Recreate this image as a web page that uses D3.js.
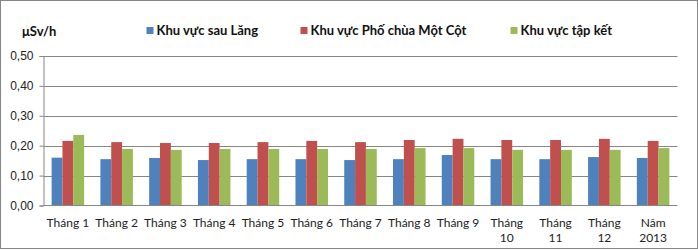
<!DOCTYPE html>
<html>
<head>
<meta charset="utf-8">
<script src="https://cdn.jsdelivr.net/npm/d3@7"></script>
<style>
  body { margin: 0; background: #fff; }
  svg { display: block; font-family: Lato, "Open Sans", sans-serif; }
</style>
</head>
<body>
<svg width="698" height="250"></svg>
<script>
const categories = ['Tháng 1', 'Tháng 2', 'Tháng 3', 'Tháng 4', 'Tháng 5', 'Tháng 6', 'Tháng 7',
  'Tháng 8', 'Tháng 9', 'Tháng 10', 'Tháng 11', 'Tháng 12', 'Năm 2013'];
const seriesNames = ['Khu vực sau Lăng', 'Khu vực Phố chùa Một Cột', 'Khu vực tập kết'];
const sauLang = [0.16, 0.155, 0.159, 0.152, 0.155, 0.155, 0.152, 0.155, 0.169, 0.155, 0.155, 0.162, 0.159];
const phoChua = [0.216, 0.212, 0.209, 0.209, 0.212, 0.216, 0.212, 0.219, 0.223, 0.219, 0.219, 0.223, 0.216];
const tapKet = [0.236, 0.189, 0.186, 0.189, 0.189, 0.189, 0.189, 0.192, 0.192, 0.186, 0.186, 0.186, 0.192];
const yTicks = [0, 0.1, 0.2, 0.3, 0.4, 0.5];
const colors = ['#4f81bd', '#c0504d', '#9bbb59'];

const svg = d3.select('svg');
const margin = { left: 43.5, right: 677.5, top: 56, bottom: 205.5 };

// outer frame
svg.append('rect')
  .attr('x', 0.5).attr('y', 0.5)
  .attr('width', 697).attr('height', 248)
  .attr('fill', '#fff').attr('stroke', '#868686');

const x = d3.scaleBand()
  .domain(categories)
  .range([margin.left, margin.right])
  .paddingInner(1.5 / 4.5)
  .paddingOuter(0.75 / 4.5);
const x1 = d3.scaleBand()
  .domain(d3.range(3))
  .range([0, x.bandwidth()]);
const y = d3.scaleLinear()
  .domain([0, 0.5])
  .range([margin.bottom, margin.top]);

const fmt = d => d3.format('.2f')(d).replace('.', ',');

// gridlines
svg.append('g')
  .selectAll('line')
  .data(yTicks.slice(1))
  .enter().append('line')
  .attr('x1', margin.left).attr('x2', margin.right)
  .attr('y1', d => Math.round(y(d)) + 0.5).attr('y2', d => Math.round(y(d)) + 0.5)
  .attr('stroke', '#868686');

// y axis
const yAxis = svg.append('g')
  .attr('transform', 'translate(' + margin.left + ',0)')
  .call(d3.axisLeft(y).tickValues(yTicks).tickFormat(fmt).tickSize(4).tickPadding(6));
yAxis.select('.domain').attr('stroke', '#868686');
yAxis.selectAll('.tick line').attr('stroke', '#868686');
yAxis.selectAll('.tick text').attr('font-size', 12).attr('fill', '#222');

// bars
const series = [sauLang, phoChua, tapKet];
series.forEach(function (vals, s) {
  svg.append('g')
    .selectAll('rect')
    .data(vals)
    .enter().append('rect')
    .attr('x', (d, i) => x(categories[i]) + x1(s))
    .attr('y', d => y(d))
    .attr('width', x1.bandwidth())
    .attr('height', d => y(0) - y(d))
    .attr('fill', colors[s]);
});

// x axis
svg.append('line')
  .attr('x1', margin.left).attr('x2', margin.right)
  .attr('y1', margin.bottom).attr('y2', margin.bottom)
  .attr('stroke', '#868686');

// category labels, long ones wrap onto two lines
const xl = svg.append('g')
  .selectAll('text')
  .data(categories)
  .enter().append('text')
  .attr('x', d => x(d) + x.bandwidth() / 2)
  .attr('y', 227)
  .attr('text-anchor', 'middle')
  .attr('font-size', 12)
  .attr('fill', '#222');
xl.each(function (d) {
  const t = d3.select(this);
  const parts = d.length > 7 ? d.split(' ') : [d];
  parts.forEach(function (p, k) {
    t.append('tspan')
      .attr('x', x(d) + x.bandwidth() / 2)
      .attr('dy', k === 0 ? 0 : 15)
      .text(p);
  });
});

// unit label
svg.append('text')
  .attr('x', 22).attr('y', 36)
  .attr('font-size', 13).attr('font-weight', 'bold')
  .attr('fill', '#111')
  .text('μSv/h');

// legend
const legendX = [146.5, 300.5, 510.5];
const legend = svg.append('g')
  .selectAll('g')
  .data(seriesNames)
  .enter().append('g')
  .attr('transform', (d, i) => 'translate(' + legendX[i] + ',27)');
legend.append('rect')
  .attr('width', 7).attr('height', 7)
  .attr('fill', (d, i) => colors[i]);
legend.append('text')
  .attr('x', 10).attr('y', 8)
  .attr('font-size', 13).attr('font-weight', 'bold')
  .attr('fill', '#111')
  .text(d => d);
</script>
</body>
</html>
